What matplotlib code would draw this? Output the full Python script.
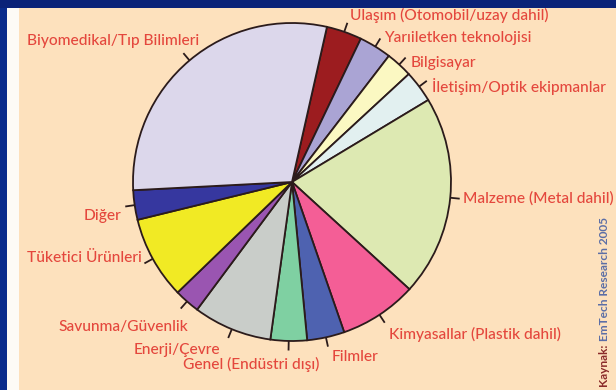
import numpy as np
import matplotlib
matplotlib.use("Agg")
import matplotlib.pyplot as plt
from matplotlib.patches import Rectangle

# wedge shares (percent), clockwise from the top
labels = [
    "Ulaşım (Otomobil/uzay dahil)",
    "Yarıiletken teknolojisi",
    "Bilgisayar",
    "İletişim/Optik ekipmanlar",
    "Malzeme (Metal dahil)",
    "Kimyasallar (Plastik dahil)",
    "Filmler",
    "Genel (Endüstri dışı)",
    "Enerji/Çevre",
    "Savunma/Güvenlik",
    "Tüketici Ürünleri",
    "Diğer",
    "Biyomedikal/Tıp Bilimleri",
]
shares = [3.6, 3.3, 2.7, 3.25, 20.4, 7.9, 3.8, 3.7, 8.0, 2.6, 8.4, 3.0, 29.35]
colors = ["#9c1c1f", "#aaa4d4", "#fbf8c2", "#e2f0f0", "#dde9b2", "#f45e96",
          "#4e62b0", "#7fd0a2", "#c9cdc9", "#9a55b1", "#f1ea24", "#36379f",
          "#dcd7eb"]

# label placement: offset in pixels from the tick end, and alignment
label_off = [(3, 7, "left"), (4, 0, "left"), (5, -5, "left"), (5, -6, "left"),
             (3, 0, "left"), (4, -12, "left"), (4, -10, "left"),
             (-37, -14, "center"), (-8, -12, "right"), (7, -18, "right"),
             (-3, 5, "right"), (-4, -9, "right"), (16, 12, "right")]

W, H = 616, 390
R = 159.0            # pie radius in pixels
cx, cy = 292, 182    # pie centre (pixels from top-left)

fig = plt.figure(figsize=(W / 100, H / 100), dpi=100)
fig.patch.set_facecolor("#fde1bd")

# frame: blue band left/top, white strip inside the left band
fig.patches.append(Rectangle((0, 0), 7 / W, 1, transform=fig.transFigure,
                             facecolor="#0a2c8c", edgecolor="none", zorder=0))
fig.patches.append(Rectangle((7 / W, 0), 12 / W, 1 - 8 / H, transform=fig.transFigure,
                             facecolor="#fdfbf6", edgecolor="none", zorder=0))
fig.patches.append(Rectangle((0, 1 - 8 / H), 1, 8 / H, transform=fig.transFigure,
                             facecolor="#0a2278", edgecolor="none", zorder=0))

ax = fig.add_axes([0, 0, 1, 1])
ax.set_facecolor("none")

start = 77.3  # angle of the Biyomedikal/Ulaşım boundary
wedges, _ = ax.pie(shares, colors=colors, startangle=start, counterclock=False,
                   radius=1.0, center=(0, 0),
                   wedgeprops=dict(edgecolor="#2b1b1b", linewidth=1.3))

ax.set_xlim(-cx / R, (W - cx) / R)
ax.set_ylim(-(H - cy) / R, cy / R)
ax.set_aspect("equal")
ax.axis("off")

txt_color = "#e4473d"
for w, lab, (dx, dy, ha) in zip(wedges, labels, label_off):
    mid = np.deg2rad((w.theta1 + w.theta2) / 2)
    x0, y0 = np.cos(mid), np.sin(mid)
    ax.plot([x0, 1.06 * x0], [y0, 1.06 * y0], color="#2b1b1b", lw=1.3,
            solid_capstyle="butt")
    ax.annotate(lab, xy=(1.06 * x0, 1.06 * y0), xytext=(dx, dy),
                textcoords="offset pixels", ha=ha, va="center",
                color=txt_color, fontsize=11.2, family="Lato",
                fontweight="medium")

# vertical source note
t1 = fig.text(604 / W, 1 - 386 / H, "Kaynak:", rotation=90, ha="center",
              va="bottom", color="#8a2a2a", fontsize=8.6, family="Lato",
              fontweight="bold")
ax.annotate(" EmTech Research 2005", xy=(0.5, 1), xycoords=t1,
            rotation=90, ha="center", va="bottom", color="#5b6ea6",
            fontsize=8.6, family="Lato", fontweight="bold")

fig.savefig("out.png", dpi=100, facecolor=fig.get_facecolor())
